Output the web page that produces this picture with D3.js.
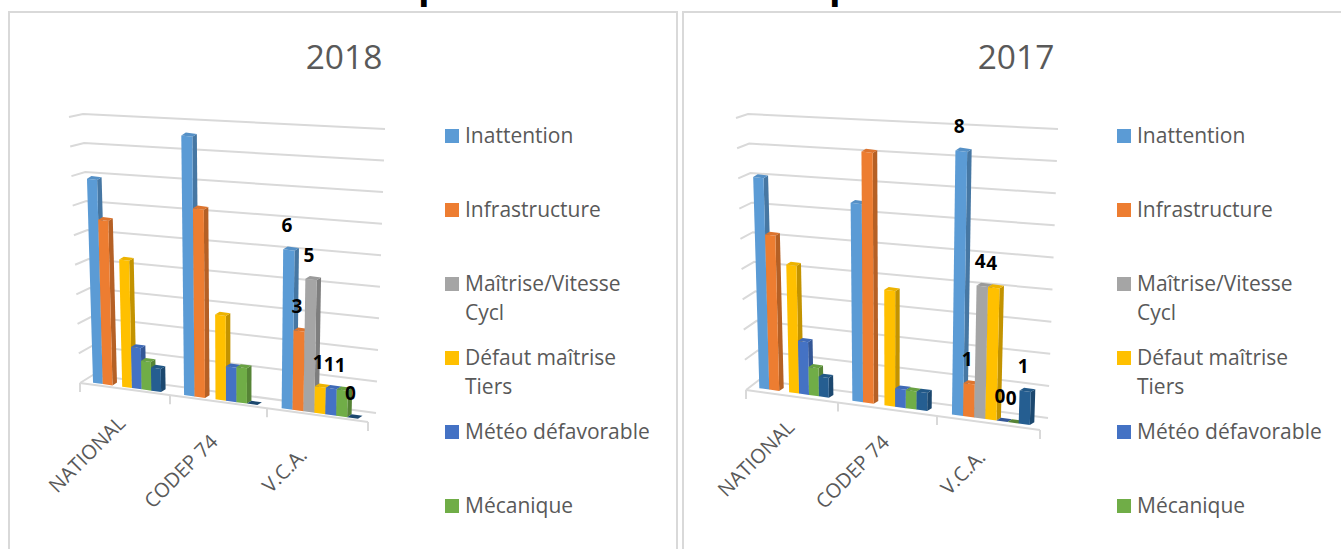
<!DOCTYPE html>
<html><head><meta charset="utf-8">
<script src="https://cdnjs.cloudflare.com/ajax/libs/d3/7.8.5/d3.min.js"></script>
<style>
html,body{margin:0;padding:0;background:#fff;overflow:hidden}
svg{display:block}
text{font-family:"Open Sans",sans-serif}
</style></head><body>
<svg id="c" width="1341" height="549"></svg>
<script>
const categories = ["NATIONAL","CODEP 74","V.C.A."];
const seriesNames = ["Inattention","Infrastructure","Maîtrise/Vitesse Cycl","Défaut maîtrise Tiers","Météo défavorable","Mécanique","Autre"];
const legendLines = [["Inattention"],["Infrastructure"],["Maîtrise/Vitesse","Cycl"],["Défaut maîtrise","Tiers"],["Météo défavorable"],["Mécanique"]];
const gridTicks = [0,1,2,3,4,5,6,7,8,9];
const colors = ["#5B9BD5","#ED7D31","#A5A5A5","#FFC000","#4472C4","#70AD47","#255E91"];

// rows = series, columns = categories; null = no bar
const inattention2018 = [7.7, 9.8, 6];
const infrastructure2018 = [6.2, 7.1, 3];
const maitrise2018 = [null, null, 5];
const defaut2018 = [4.8, 3.2, 1];
const meteo2018 = [1.55, 1.3, 1];
const mecanique2018 = [1.08, 1.33, 1];
const autre2018 = [0.87, 0, 0];

const inattention2017 = [6.4, 6.0, 8];
const infrastructure2017 = [4.7, 7.6, 1];
const maitrise2017 = [null, null, 4];
const defaut2017 = [3.87, 3.5, 4];
const meteo2017 = [1.6, 0.56, 0];
const mecanique2017 = [0.85, 0.55, 0];
const autre2017 = [0.6, 0.55, 1];

const values2018 = [inattention2018,infrastructure2018,maitrise2018,defaut2018,meteo2018,mecanique2018,autre2018];
const values2017 = [inattention2017,infrastructure2017,maitrise2017,defaut2017,meteo2017,mecanique2017,autre2017];
const labelledCategory = 2; // only V.C.A. carries data labels

const panels = [
 {title:"2018", values:values2018, box:[9,12,668,560], titleX:344, legendX:445,
  fl:[80,383], fr:[368,422], tip:[69,117], wall:{tl:[83,114],tr:[385,129],bl:[93,375],br:[376,413]},
  ticksX:[80,170,267,368], baseOffset:-2,
  unit:26.5, lean:[235,0.00021],
  catLabelEnd:[[116,414],[208.5,432.5],[297.5,446]]},
 {title:"2017", values:values2017, box:[683,12,670,560], titleX:1016, legendX:1117,
  fl:[746,390], fr:[1040,430], tip:[736,118], wall:{tl:[748,114],tr:[1058,129],bl:[759,380],br:[1048,418]},
  ticksX:[746,838,937,1040], baseOffset:-3.6,
  unit:33, lean:[892,0.00022],
  catLabelEnd:[[785,418],[880,433],[976,448]]}
];
const slotOffsetFrac = 0.145, slotWidthFrac = 0.108;

const svg = d3.select("#c");
const grey = "#595959";

// clipped chart title, only its descenders remain inside the frame
const tailsX = [418,829];
svg.selectAll("text.tail").data(tailsX).join("text").attr("class","tail")
  .attr("x",d=>d).attr("y",-2).attr("font-size",38).attr("font-weight",700).attr("fill","#000").text("p");

panels.forEach(p=>{
  const g = svg.append("g");
  g.append("rect").attr("x",p.box[0]).attr("y",p.box[1]).attr("width",p.box[2]).attr("height",p.box[3])
    .attr("fill","#fff").attr("stroke","#D9D9D9").attr("stroke-width",2);
  g.append("text").attr("x",p.titleX).attr("y",69).attr("text-anchor","middle")
    .attr("font-size",33.5).attr("fill",grey).text(p.title);

  const dom = d3.extent(gridTicks);
  const leftY = d3.scaleLinear().domain(dom).range([p.wall.bl[1],p.wall.tl[1]]);
  const rightY = d3.scaleLinear().domain(dom).range([p.wall.br[1],p.wall.tr[1]]);
  const leftX = d3.scaleLinear().domain(dom).range([p.wall.bl[0],p.wall.tl[0]]);
  const rightX = d3.scaleLinear().domain(dom).range([p.wall.br[0],p.wall.tr[0]]);
  const tipX = d3.scaleLinear().domain(dom).range([p.fl[0],p.tip[0]]);
  const tipY = d3.scaleLinear().domain(dom).range([p.fl[1],p.tip[1]]);
  const line = d3.line();
  g.selectAll("path.grid").data(gridTicks).join("path").attr("class","grid")
    .attr("fill","none").attr("stroke","#D9D9D9").attr("stroke-width",2)
    .attr("d",t=>line([[tipX(t),tipY(t)],[leftX(t),leftY(t)],[rightX(t),rightY(t)]]));

  // floor: category position with perspective (piecewise linear)
  const catPos = d3.scaleLinear().domain([0,1,2,3]).range(p.ticksX);
  const floorY = d3.scaleLinear().domain([p.fl[0],p.fr[0]]).range([p.fl[1],p.fr[1]]);
  g.append("path").attr("fill","none").attr("stroke","#D9D9D9").attr("stroke-width",2)
    .attr("d",line([p.fl,p.fr]));
  g.selectAll("path.tk").data(p.ticksX).join("path").attr("class","tk")
    .attr("stroke","#D9D9D9").attr("stroke-width",2)
    .attr("d",x=>line([[x,floorY(x)],[x,floorY(x)+9]]));

  // bars
  const slot = d3.scaleBand().domain(seriesNames).range([slotOffsetFrac, slotOffsetFrac+slotWidthFrac*seriesNames.length]);
  const h = d3.scaleLinear().domain([0,1]).range([0,p.unit]);
  const dx=4.5, dy=-2.8;
  const proj = (x,y,ht)=>[x+(x-p.lean[0])*p.lean[1]*ht, y-ht];
  const darker = c=>d3.color(c).darker(0.75).formatHex();
  const topc = c=>d3.color(c).darker(0.2).formatHex();
  const labels=[];
  categories.forEach((cat,ci)=>seriesNames.forEach((sn,si)=>{
    const v=p.values[si][ci];
    if(v===null) return;
    const x=catPos(ci+slot(sn)), xr=catPos(ci+slot(sn)+slot.bandwidth());
    const y0=floorY(x)+p.baseOffset, y1=floorY(xr)+p.baseOffset, ht=h(v);
    const c=colors[si];
    const a=[x,y0], d=[xr,y1];
    const at=proj(x,y0,ht), dt=proj(xr,y1,ht);
    const back=[d[0]+dx,d[1]+dy], backT=[dt[0]+dx,dt[1]+dy], atB=[at[0]+dx,at[1]+dy];
    const bg=g.append("g");
    if(ht>0){
      bg.append("path").attr("fill",darker(c)).attr("d",line([d,back,backT,dt])+"Z");
      bg.append("path").attr("fill",c).attr("d",line([a,d,dt,at])+"Z");
    }
    bg.append("path").attr("fill",ht>0?topc(c):darker(c)).attr("d",line([at,dt,backT,atB])+"Z");
    if(ci===labelledCategory) labels.push({x:(at[0]+dt[0])/2-2,y:at[1]-17,v});
  }));
  g.selectAll("text.lab").data(labels).join("text").attr("class","lab")
    .attr("x",d=>d.x).attr("y",d=>d.y).attr("text-anchor","middle")
    .attr("font-size",19).attr("font-weight",700).attr("fill","#000").text(d=>d.v);

  // category labels
  g.selectAll("text.cat").data(categories).join("text").attr("class","cat")
    .attr("text-anchor","end").attr("font-size",20).attr("fill",grey)
    .attr("transform",(d,i)=>`translate(${p.catLabelEnd[i][0]},${p.catLabelEnd[i][1]}) rotate(-45)`)
    .attr("dy","0.75em").text(d=>d);

  // legend
  const ly = d3.scalePoint().domain(legendLines.map(d=>d[0])).range([136,506]);
  const items=g.selectAll("g.leg").data(legendLines).join("g").attr("class","leg");
  items.append("rect").attr("x",p.legendX).attr("y",d=>ly(d[0])-7).attr("width",14).attr("height",14)
    .attr("fill",(d,i)=>colors[i]);
  items.selectAll("text").data(d=>d.map((t,i)=>({t,i,y:ly(d[0])}))).join("text")
    .attr("x",p.legendX+20).attr("y",d=>d.y+7+d.i*29).attr("font-size",21).attr("fill",grey).text(d=>d.t);
});
</script>
</body></html>
